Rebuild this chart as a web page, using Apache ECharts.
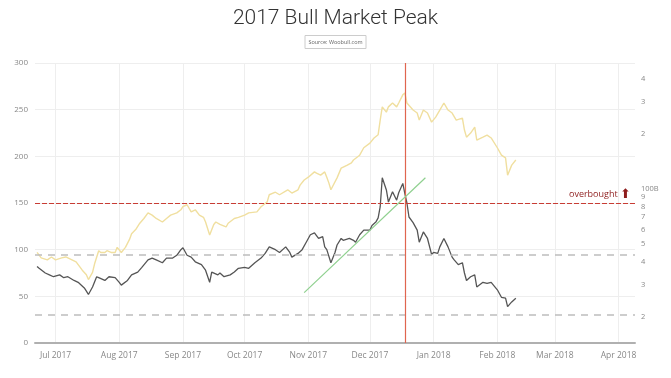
<!DOCTYPE html>
<html lang="en">
<head>
<meta charset="UTF-8">
<title>2017 Bull Market Peak</title>
<script src="https://cdn.jsdelivr.net/npm/echarts@6/dist/echarts.min.js"></script>
<style>
    html, body, #chart {
        width: 671px;
        height: 378px;
        margin: 0;
        padding: 0;
        background: #fff;
    }
</style>
</head>
<body>
<div id="chart"></div>
<script>
    // month gridlines / x tick labels
    var monthStarts = ['2017-07-01', '2017-08-01', '2017-09-01', '2017-10-01', '2017-11-01',
        '2017-12-01', '2018-01-01', '2018-02-01', '2018-03-01', '2018-04-01'];
    var monthLabels = ['Jul 2017', 'Aug 2017', 'Sep 2017', 'Oct 2017', 'Nov 2017',
        'Dec 2017', 'Jan 2018', 'Feb 2018', 'Mar 2018', 'Apr 2018'];

    // right (log) axis ticks, market cap in billions
    var capTicks = [20, 30, 40, 50, 60, 70, 80, 90, 100, 200, 300, 400];
    var capTickLabels = ['2', '3', '4', '5', '6', '7', '8', '9', '100B', '2', '3', '4'];

    // yellow line: market cap (B), right log axis
    var marketCap = [
        ['2017-06-22', 45], ['2017-06-24', 42], ['2017-06-27', 41], ['2017-06-29', 42.5],
        ['2017-07-01', 41], ['2017-07-04', 42], ['2017-07-06', 42.5], ['2017-07-09', 41],
        ['2017-07-11', 40], ['2017-07-14', 36], ['2017-07-16', 34], ['2017-07-17', 32],
        ['2017-07-19', 35], ['2017-07-20', 39], ['2017-07-22', 46], ['2017-07-23', 45],
        ['2017-07-25', 45], ['2017-07-26', 46], ['2017-07-28', 45], ['2017-07-30', 45],
        ['2017-07-31', 48], ['2017-08-02', 45], ['2017-08-04', 48], ['2017-08-06', 53],
        ['2017-08-07', 57], ['2017-08-09', 60], ['2017-08-11', 65], ['2017-08-13', 69],
        ['2017-08-15', 74], ['2017-08-17', 72], ['2017-08-19', 69], ['2017-08-22', 66],
        ['2017-08-24', 69], ['2017-08-26', 72], ['2017-08-29', 74], ['2017-08-31', 77],
        ['2017-09-01', 80], ['2017-09-03', 82], ['2017-09-05', 75], ['2017-09-07', 77],
        ['2017-09-09', 72], ['2017-09-11', 70], ['2017-09-12', 66], ['2017-09-14', 56],
        ['2017-09-16', 64], ['2017-09-17', 66], ['2017-09-19', 64], ['2017-09-22', 62],
        ['2017-09-23', 65], ['2017-09-26', 69], ['2017-09-28', 70], ['2017-10-01', 72],
        ['2017-10-03', 74], ['2017-10-07', 75], ['2017-10-09', 80], ['2017-10-12', 85],
        ['2017-10-13', 93], ['2017-10-16', 96], ['2017-10-18', 93], ['2017-10-22', 99],
        ['2017-10-24', 95], ['2017-10-27', 99], ['2017-10-28', 105], ['2017-10-30', 112],
        ['2017-11-01', 116], ['2017-11-04', 124], ['2017-11-05', 122], ['2017-11-07', 119],
        ['2017-11-09', 124], ['2017-11-10', 116], ['2017-11-11', 108], ['2017-11-12', 99],
        ['2017-11-15', 115], ['2017-11-17', 130], ['2017-11-20', 135], ['2017-11-22', 139],
        ['2017-11-23', 144], ['2017-11-26', 153], ['2017-11-28', 168], ['2017-12-01', 178],
        ['2017-12-03', 190], ['2017-12-05', 198], ['2017-12-06', 238], ['2017-12-07', 281],
        ['2017-12-09', 263], ['2017-12-10', 281], ['2017-12-12', 295], ['2017-12-14', 281],
        ['2017-12-15', 295], ['2017-12-17', 327], ['2017-12-18', 335], ['2017-12-19', 295],
        ['2017-12-22', 270], ['2017-12-24', 260], ['2017-12-25', 238], ['2017-12-27', 270],
        ['2017-12-29', 260], ['2017-12-31', 232], ['2018-01-02', 247], ['2018-01-04', 270],
        ['2018-01-06', 295], ['2018-01-08', 270], ['2018-01-10', 260], ['2018-01-12', 238],
        ['2018-01-15', 244], ['2018-01-16', 210], ['2018-01-17', 192], ['2018-01-19', 202],
        ['2018-01-21', 218], ['2018-01-22', 185], ['2018-01-25', 192], ['2018-01-27', 197],
        ['2018-01-29', 190], ['2018-02-01', 168], ['2018-02-03', 153], ['2018-02-05', 148],
        ['2018-02-06', 119], ['2018-02-08', 135], ['2018-02-10', 144]
    ];

    // dark line: ratio on left axis
    var ratio = [
        ['2017-06-22', 82], ['2017-06-23', 80], ['2017-06-26', 75], ['2017-06-28', 73],
        ['2017-06-30', 71], ['2017-07-03', 73], ['2017-07-05', 70], ['2017-07-07', 71],
        ['2017-07-10', 67], ['2017-07-12', 65], ['2017-07-15', 59], ['2017-07-17', 52],
        ['2017-07-19', 60], ['2017-07-21', 71], ['2017-07-22', 70], ['2017-07-25', 67],
        ['2017-07-27', 71], ['2017-07-30', 70], ['2017-08-01', 65], ['2017-08-02', 62],
        ['2017-08-05', 67], ['2017-08-07', 73], ['2017-08-10', 76], ['2017-08-12', 81],
        ['2017-08-15', 89], ['2017-08-17', 91], ['2017-08-19', 89], ['2017-08-22', 86],
        ['2017-08-24', 91], ['2017-08-27', 91], ['2017-08-29', 94], ['2017-08-31', 100],
        ['2017-09-01', 102], ['2017-09-03', 94], ['2017-09-05', 92], ['2017-09-07', 87],
        ['2017-09-10', 84], ['2017-09-12', 78], ['2017-09-14', 65], ['2017-09-15', 76],
        ['2017-09-18', 73], ['2017-09-19', 75], ['2017-09-21', 71], ['2017-09-24', 73],
        ['2017-09-26', 76], ['2017-09-28', 80], ['2017-10-01', 81], ['2017-10-03', 80],
        ['2017-10-06', 86], ['2017-10-09', 91], ['2017-10-11', 96], ['2017-10-13', 103],
        ['2017-10-16', 100], ['2017-10-18', 97], ['2017-10-21', 103], ['2017-10-23', 97],
        ['2017-10-24', 92], ['2017-10-27', 96], ['2017-10-29', 100], ['2017-10-31', 108],
        ['2017-11-02', 116], ['2017-11-04', 118], ['2017-11-06', 112], ['2017-11-08', 114],
        ['2017-11-09', 103], ['2017-11-10', 100], ['2017-11-12', 86], ['2017-11-14', 97],
        ['2017-11-15', 105], ['2017-11-17', 112], ['2017-11-18', 110], ['2017-11-21', 112],
        ['2017-11-23', 110], ['2017-11-24', 108], ['2017-11-26', 116], ['2017-11-28', 121],
        ['2017-12-01', 121], ['2017-12-02', 126], ['2017-12-04', 130], ['2017-12-05', 134],
        ['2017-12-06', 146], ['2017-12-07', 177], ['2017-12-09', 164], ['2017-12-10', 151],
        ['2017-12-12', 162], ['2017-12-14', 153], ['2017-12-15', 161], ['2017-12-17', 171],
        ['2017-12-18', 160], ['2017-12-19', 150], ['2017-12-20', 135], ['2017-12-22', 129],
        ['2017-12-24', 121], ['2017-12-25', 108], ['2017-12-27', 119], ['2017-12-29', 112],
        ['2017-12-31', 95], ['2018-01-01', 97], ['2018-01-03', 96], ['2018-01-04', 103],
        ['2018-01-06', 112], ['2018-01-08', 103], ['2018-01-10', 92], ['2018-01-11', 89],
        ['2018-01-13', 84], ['2018-01-15', 86], ['2018-01-16', 75], ['2018-01-17', 67],
        ['2018-01-19', 71], ['2018-01-21', 73], ['2018-01-22', 60], ['2018-01-25', 65],
        ['2018-01-27', 64], ['2018-01-29', 65], ['2018-02-01', 57], ['2018-02-03', 49],
        ['2018-02-05', 48], ['2018-02-06', 39], ['2018-02-08', 44], ['2018-02-10', 48]
    ];

    var trendLine = [['2017-10-30', 54], ['2017-12-28', 177]];
    var overbought = 150;
    var bandLevels = [95, 30];
    var peakDate = '2017-12-18';

    // date string -> timestamp (local time)
    function day(s) {
        var p = s.split('-');
        return +new Date(+p[0], +p[1] - 1, +p[2]);
    }
    function toXY(list) {
        return list.map(function (p) { return [day(p[0]), p[1]]; });
    }

    var monthValues = monthStarts.map(day);
    var labelOf = {};
    monthValues.forEach(function (v, i) { labelOf[v] = monthLabels[i]; });

    var capLabelOf = {};
    capTicks.forEach(function (v, i) { capLabelOf[v] = capTickLabels[i]; });

    var chart = echarts.init(document.getElementById('chart'));
    chart.setOption({
        animation: false,
        title: [{
            text: '2017 Bull Market Peak',
            left: 'center',
            top: 3,
            textStyle: { fontFamily: 'Roboto', fontWeight: 300, fontSize: 21, color: '#333' }
        }, {
            text: 'Source: Woobull.com',
            left: 'center',
            top: 35,
            padding: [4, 4],
            borderColor: '#ccc',
            borderWidth: 1,
            textStyle: { fontFamily: 'Open Sans', fontWeight: 'normal', fontSize: 5.5, color: '#666' }
        }],
        grid: { left: 35, right: 36, top: 63, bottom: 35, containLabel: false, outerBoundsMode: 'none' },
        xAxis: {
            type: 'value',
            min: day('2017-06-21'),
            max: day('2018-04-09'),
            axisLine: { lineStyle: { color: '#b0b0b0', width: 2 } },
            axisTick: { show: false, customValues: monthValues },
            axisLabel: {
                customValues: monthValues,
                formatter: function (v) { return labelOf[v] || ''; },
                color: '#888', fontSize: 8.5, fontFamily: 'Open Sans', margin: 8
            },
            splitLine: { show: true, lineStyle: { color: '#eeeeee', width: 1 } }
        },
        yAxis: [{
            type: 'value',
            min: 0,
            max: 300,
            interval: 50,
            axisLine: { show: false },
            axisTick: { show: false },
            axisLabel: { color: '#888', fontSize: 8, fontFamily: 'Open Sans', margin: 7 },
            splitLine: { lineStyle: { color: '#eeeeee', width: 1 } }
        }, {
            type: 'log',
            logBase: 10,
            min: 14.4,
            max: 488,
            axisLine: { show: false },
            axisTick: { show: false },
            splitLine: { show: false },
            axisLabel: {
                customValues: capTicks,
                formatter: function (v) { return capLabelOf[Math.round(v)] || ''; },
                color: '#888', fontSize: 7.5, fontFamily: 'Open Sans', margin: 6
            }
        }],
        series: [{
            // grey threshold bands
            name: 'Bands',
            type: 'line',
            yAxisIndex: 0,
            data: [],
            color: '#bdbdbd',
            markLine: {
                silent: true,
                symbol: ['none', 'none'],
                label: { show: false },
                lineStyle: { color: '#bdbdbd', width: 1.5, type: [7, 6] },
                data: [{ yAxis: bandLevels[0] }, { yAxis: bandLevels[1] }]
            },
            z: 1
        }, {
            name: 'Market cap',
            type: 'line',
            yAxisIndex: 1,
            data: toXY(marketCap),
            showSymbol: false,
            symbol: 'none',
            lineStyle: { color: '#f0df9f', width: 1.4 },
            z: 2
        }, {
            name: 'Ratio',
            type: 'line',
            yAxisIndex: 0,
            data: toXY(ratio),
            showSymbol: false,
            symbol: 'none',
            lineStyle: { color: '#555', width: 1.3 },
            z: 3
        }, {
            // overbought level
            name: 'Overbought',
            type: 'line',
            yAxisIndex: 0,
            data: [],
            color: '#c83c34',
            markLine: {
                silent: true,
                symbol: ['none', 'none'],
                lineStyle: { color: '#c83c34', width: 1.2, type: [5, 2] },
                label: {
                    show: true,
                    position: 'insideEndTop',
                    distance: [4, 2],
                    formatter: 'overbought {arr|\u2B06}',
                    color: '#8e1c1c',
                    fontSize: 9,
                    fontFamily: 'Open Sans',
                    rich: { arr: { fontSize: 13, color: '#8e1c1c' } }
                },
                data: [{ yAxis: overbought }]
            },
            z: 4
        }, {
            // peak marker
            name: 'Peak',
            type: 'line',
            data: [],
            color: '#e0654f',
            markLine: {
                silent: true,
                symbol: ['none', 'none'],
                label: { show: false },
                lineStyle: { color: '#e0654f', width: 1.2, type: 'solid' },
                data: [{ xAxis: day(peakDate) }]
            },
            z: 4
        }, {
            name: 'Trend',
            type: 'line',
            yAxisIndex: 0,
            data: toXY(trendLine),
            showSymbol: false,
            symbol: 'none',
            lineStyle: { color: '#8fd08f', width: 1.2 },
            z: 5
        }]
    });
</script>
</body>
</html>
